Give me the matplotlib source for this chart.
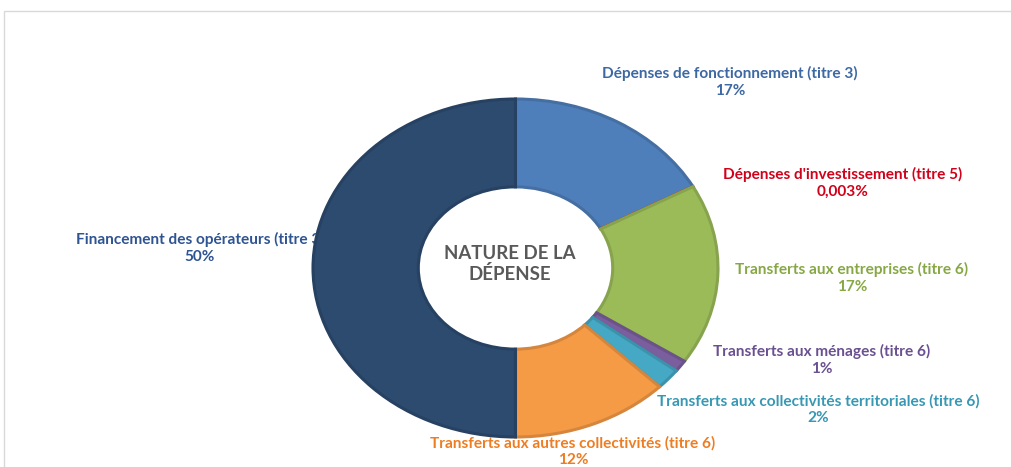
import matplotlib
matplotlib.use("Agg")
import matplotlib.pyplot as plt
import matplotlib.colors as mcolors
from matplotlib.patches import Rectangle

plt.rcParams['font.family'] = ['Lato', 'DejaVu Sans']

categories = [
    "Dépenses de fonctionnement (titre 3)",
    "Dépenses d'investissement (titre 5)",
    "Transferts aux entreprises (titre 6)",
    "Transferts aux ménages (titre 6)",
    "Transferts aux collectivités territoriales (titre 6)",
    "Transferts aux autres collectivités (titre 6)",
    "Financement des opérateurs (titre 3)",
]
values = [17.0, 0.003, 17.3, 1.1, 2.0, 12.6, 50.0]
pct_labels = ["17%", "0,003%", "17%", "1%", "2%", "12%", "50%"]

slice_colors = ["#4F7FBA", "#C0504D", "#9BBB59", "#7B5E9E", "#45A8C4", "#F59A45", "#2C4B6F"]
label_colors = ["#3D68A3", "#D0021B", "#86A844", "#6A5090", "#3798B4", "#EE7D22", "#2F5492"]
label_pos = [(730, 82), (843, 183), (852, 278), (822, 360), (818, 410), (573, 452), (200, 248)]

W, H = 1011, 467
fig = plt.figure(figsize=(W / 100, H / 100), dpi=100)
ax = fig.add_axes([0, 0, 1, 1])

cx, cy = 515.5, 268.0
rx, ry = 202.5, 169.0
xlim = (-cx / rx, (W - cx) / rx)
ylim = (-(H - cy) / ry, cy / ry)


def darker(c, f=0.87):
    r, g, b = mcolors.to_rgb(c)
    return (r * f, g * f, b * f)


wedges, _ = ax.pie(values, colors=slice_colors, startangle=90, counterclock=False,
                   radius=1.0,
                   wedgeprops=dict(width=0.52, linewidth=2.2))
for w, c in zip(wedges, slice_colors):
    w.set_edgecolor(darker(c))
    w.set_zorder(3)

ax.set_aspect('auto')
ax.set_xlim(*xlim)
ax.set_ylim(*ylim)
ax.axis('off')


def to_data(px, py):
    return ((px - cx) / rx, (cy - py) / ry)


for cat, pct, col, (px, py) in zip(categories, pct_labels, label_colors, label_pos):
    x, y = to_data(px, py)
    ax.text(x, y, cat + "\n" + pct, ha='center', va='center', color=col,
            fontsize=11.1, fontweight='bold', linespacing=1.22, zorder=1)

x, y = to_data(510, 264)
ax.text(x, y, "NATURE DE LA\nDÉPENSE", ha='center', va='center', color="#595959",
        fontsize=13.4, fontweight='bold', linespacing=1.15, zorder=5)

# light frame at top-left
fig.add_artist(Rectangle((3.5 / W, -0.1), 1.2, (H - 11) / H + 0.1,
                         transform=fig.transFigure, fill=False,
                         edgecolor="#D9D9D9", linewidth=1.0))

fig.savefig("out.png", dpi=100, facecolor="white")
